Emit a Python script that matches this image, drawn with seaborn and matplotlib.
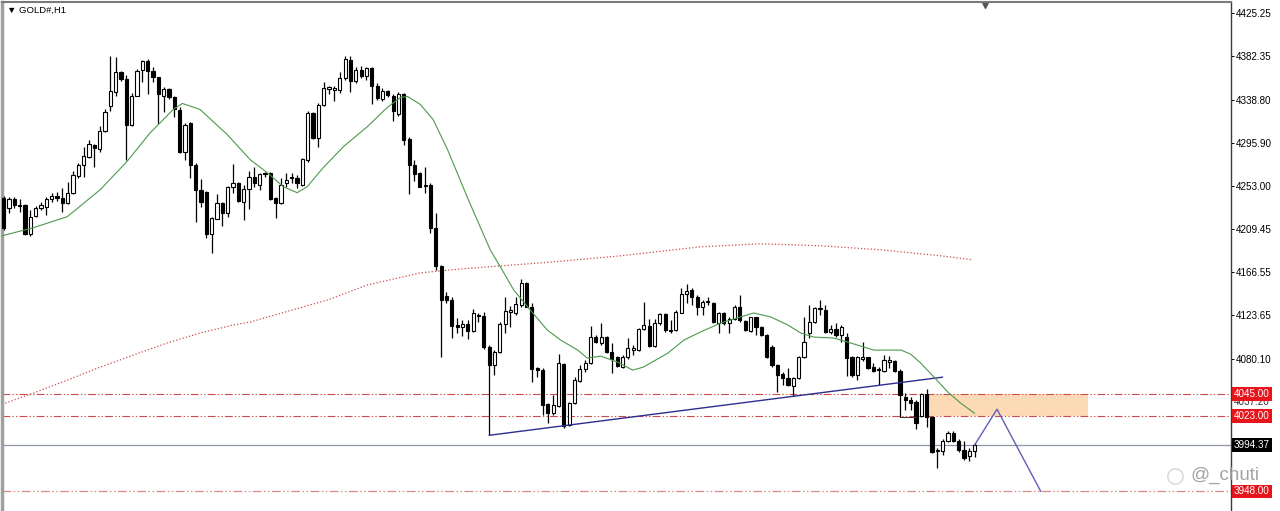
import numpy as np
import pandas as pd
import matplotlib
matplotlib.use('Agg')
import matplotlib.pyplot as plt
import matplotlib.patches as patches
import matplotlib.transforms as mtransforms
from matplotlib.lines import Line2D
import seaborn as sns

# H1 candles, bar -1 is the one half hidden at the left edge
opens = [4241, 4231, 4240, 4234, 4234, 4205, 4223, 4231, 4232, 4240,
         4243, 4241, 4236, 4246, 4263, 4274, 4282, 4294, 4290, 4308,
         4332, 4346, 4366, 4359, 4314, 4342, 4368, 4377, 4367, 4361,
         4342, 4349, 4341, 4328, 4287, 4316, 4274, 4249, 4247, 4205,
         4220, 4236, 4226, 4252, 4256, 4237, 4250, 4262, 4254, 4266,
         4266, 4241, 4236, 4256, 4261, 4261, 4254, 4279, 4325, 4301,
         4333, 4349, 4348, 4348, 4360, 4378, 4357, 4368, 4362, 4370,
         4352, 4339, 4347, 4342, 4324, 4344, 4300, 4274, 4266, 4254,
         4254, 4211, 4173, 4143, 4139, 4114, 4112, 4115, 4108, 4124,
         4123, 4092, 4074, 4087, 4115, 4127, 4126, 4134, 4156, 4132,
         4071, 4069, 4035, 4026, 4033, 4075, 4014, 4036, 4058, 4070,
         4076, 4102, 4096, 4102, 4087, 4082, 4072, 4082, 4089, 4089,
         4110, 4113, 4093, 4116, 4125, 4109, 4109, 4126, 4145, 4149,
         4142, 4132, 4137, 4136, 4116, 4126, 4116, 4120, 4132, 4118,
         4108, 4122, 4112, 4104, 4092, 4074, 4065, 4061, 4053, 4061,
         4082, 4106, 4117, 4130, 4129, 4107, 4110, 4104, 4102, 4082,
         4064, 4080, 4082, 4072, 4070, 4068, 4077, 4078, 4068, 4042,
         4039, 4037, 4023, 4045, 4022, 3988, 3988, 3998, 4006, 3998,
         3989, 3983, 3988]
highs = [4243, 4242, 4242, 4240, 4235, 4229, 4233, 4237, 4242, 4246,
         4247, 4251, 4257, 4268, 4276, 4292, 4299, 4295, 4313, 4329,
         4382, 4381, 4367, 4363, 4345, 4369, 4378, 4379, 4371, 4361,
         4351, 4350, 4342, 4331, 4316, 4317, 4276, 4260, 4248, 4222,
         4245, 4237, 4253, 4275, 4257, 4254, 4268, 4272, 4266, 4267,
         4267, 4242, 4261, 4266, 4266, 4264, 4281, 4327, 4326, 4335,
         4356, 4352, 4352, 4366, 4382, 4382, 4371, 4372, 4371, 4371,
         4355, 4350, 4348, 4344, 4346, 4345, 4302, 4279, 4267, 4272,
         4256, 4226, 4174, 4147, 4142, 4121, 4119, 4119, 4130, 4126,
         4127, 4094, 4089, 4117, 4142, 4133, 4142, 4160, 4157, 4136,
         4072, 4071, 4036, 4044, 4085, 4076, 4037, 4062, 4074, 4079,
         4113, 4104, 4116, 4103, 4096, 4083, 4084, 4101, 4094, 4111,
         4137, 4120, 4120, 4126, 4126, 4119, 4129, 4151, 4155, 4151,
         4144, 4139, 4142, 4137, 4127, 4127, 4122, 4134, 4144, 4119,
         4122, 4122, 4113, 4105, 4094, 4075, 4067, 4071, 4062, 4083,
         4122, 4134, 4132, 4139, 4134, 4114, 4116, 4114, 4106, 4083,
         4083, 4097, 4082, 4076, 4072, 4084, 4083, 4079, 4070, 4046,
         4042, 4039, 4046, 4050, 4022, 3991, 4000, 4008, 4008, 4000,
         3998, 3991, 3996]
lows = [4209, 4226, 4231, 4227, 4204, 4203, 4222, 4229, 4224, 4237,
        4238, 4227, 4235, 4245, 4261, 4262, 4281, 4272, 4287, 4307,
        4327, 4342, 4357, 4279, 4313, 4342, 4356, 4344, 4356, 4315,
        4326, 4339, 4321, 4286, 4279, 4261, 4217, 4232, 4201, 4186,
        4220, 4213, 4222, 4246, 4237, 4219, 4230, 4252, 4249, 4262,
        4239, 4221, 4235, 4252, 4256, 4251, 4253, 4277, 4300, 4292,
        4332, 4344, 4337, 4345, 4358, 4346, 4355, 4360, 4358, 4334,
        4338, 4337, 4341, 4318, 4322, 4294, 4245, 4258, 4252, 4246,
        4206, 4169, 4082, 4136, 4101, 4106, 4103, 4100, 4107, 4117,
        4090, 4004, 4064, 4086, 4106, 4112, 4124, 4132, 4132, 4057,
        4062, 4024, 4016, 4024, 4032, 4011, 4013, 4035, 4057, 4067,
        4075, 4096, 4094, 4086, 4066, 4072, 4071, 4080, 4084, 4088,
        4109, 4092, 4092, 4114, 4107, 4106, 4108, 4126, 4136, 4134,
        4124, 4124, 4134, 4116, 4106, 4114, 4106, 4119, 4117, 4108,
        4107, 4104, 4103, 4081, 4072, 4047, 4054, 4053, 4043, 4060,
        4081, 4101, 4116, 4124, 4106, 4105, 4102, 4097, 4063, 4062,
        4059, 4078, 4070, 4067, 4054, 4067, 4071, 4067, 4022, 4029,
        4029, 4010, 4022, 4012, 3986, 3971, 3984, 3997, 3997, 3987,
        3979, 3978, 3982]
closes = [4211, 4240, 4234, 4233, 4205, 4222, 4231, 4234, 4240, 4243,
          4241, 4236, 4246, 4264, 4274, 4283, 4295, 4291, 4308, 4326,
          4347, 4366, 4359, 4314, 4342, 4367, 4377, 4367, 4361, 4344,
          4349, 4341, 4329, 4287, 4314, 4274, 4249, 4237, 4205, 4221,
          4236, 4226, 4252, 4256, 4238, 4250, 4262, 4256, 4265, 4265,
          4240, 4236, 4254, 4259, 4262, 4256, 4280, 4325, 4301, 4333,
          4350, 4351, 4350, 4360, 4379, 4357, 4368, 4362, 4370, 4352,
          4340, 4347, 4343, 4327, 4344, 4299, 4274, 4265, 4252, 4253,
          4211, 4173, 4139, 4139, 4113, 4112, 4115, 4108, 4126, 4123,
          4092, 4074, 4087, 4115, 4128, 4129, 4135, 4156, 4132, 4070,
          4069, 4034, 4026, 4034, 4076, 4013, 4036, 4059, 4070, 4076,
          4102, 4097, 4102, 4087, 4080, 4073, 4082, 4091, 4091, 4110,
          4114, 4093, 4116, 4125, 4109, 4108, 4127, 4145, 4148, 4142,
          4132, 4137, 4138, 4117, 4126, 4116, 4120, 4132, 4119, 4109,
          4122, 4112, 4104, 4082, 4074, 4064, 4061, 4054, 4061, 4082,
          4097, 4117, 4131, 4131, 4107, 4110, 4104, 4112, 4081, 4064,
          4082, 4082, 4071, 4068, 4069, 4079, 4079, 4068, 4044, 4039,
          4036, 4016, 4045, 4022, 3987, 3989, 3998, 4006, 3998, 3989,
          3981, 3988, 3994]
bar_idx = np.arange(-1, len(opens) - 1)

# green fast MA, read along its path
ma_fast_idx = [-1.3, 4.5, 10.9, 17.1, 22.1, 26.5, 30.8, 32.5, 35.8, 40.9,
               45.2, 48.4, 51.4, 54.0, 55.9, 58.9, 62.7, 67.2, 70.9, 73.4,
               74.7, 77.1, 79.5, 82.2, 86.1, 90.2, 92.1, 94.6, 97.7, 100.9,
               103.4, 106.6, 108.4, 110.9, 114.1, 116.9, 118.9, 123.5, 126.5, 129.6,
               133.4, 137.1, 139.6, 142.8, 146.0, 148.4, 150.8, 154.6, 157.2, 162.1,
               167.2, 169.0, 170.9, 173.4, 176.0, 178.4, 181.0]
ma_fast_val = [4203, 4211, 4222, 4249, 4277, 4306, 4329, 4335, 4329, 4304,
               4279, 4266, 4252, 4246, 4252, 4271, 4292, 4312, 4331, 4341,
               4342, 4334, 4319, 4289, 4239, 4189, 4172, 4149, 4129, 4109,
               4099, 4089, 4081, 4083, 4077, 4069, 4072, 4086, 4099, 4107,
               4116, 4122, 4126, 4122, 4114, 4106, 4102, 4101, 4097, 4089,
               4089, 4085, 4076, 4062, 4047, 4036, 4026]

# red slow MA (dotted)
ma_slow_idx = [-1.3, 4.5, 10.9, 17.1, 23.3, 29.6, 35.8, 42.0, 45.2, 59.7,
               67.2, 77.1, 82.7, 89.7, 102.1, 114.6, 129.6, 140.9, 152.2, 163.4,
               174.7, 180.7]
ma_slow_val = [4035, 4046, 4059, 4072, 4084, 4096, 4106, 4114, 4117, 4139,
               4154, 4166, 4169, 4172, 4177, 4183, 4192, 4195, 4193, 4189,
               4183, 4179]

price_ticks = [4425.25, 4382.35, 4338.80, 4295.90, 4253.00, 4209.45, 4166.55, 4123.65, 4080.10]
level_high = 4045.00
level_low = 4023.00
level_target = 3948.00
bid_price = 3994.37
hidden_label = 4037.20

trend_idx = [90, 175]
trend_val = [4004, 4062]
path_idx = [181, 185.2, 193.4]
path_val = [3994.37, 4030, 3948]
zone_idx = [172.5, 202.2]
mark_idx = [167, 170]
mark_val = [4022, 4022]

sns.set_theme(style='white')
plt.rcParams['font.family'] = ['Liberation Sans', 'DejaVu Sans']

fig = plt.figure(figsize=(12.8, 5.11), dpi=100)
ax = fig.add_axes([2 / 1280, 0, 1229 / 1280, 509 / 511])

df = pd.DataFrame({'idx': bar_idx, 'open': opens, 'high': highs, 'low': lows, 'close': closes})
df['up'] = df['close'] >= df['open']
df['bottom'] = df[['open', 'close']].min(axis=1)
df['height'] = (df['close'] - df['open']).abs().clip(lower=0.8)

# zone + levels
ax.add_patch(patches.Rectangle((zone_idx[0], level_low), zone_idx[1] - zone_idx[0],
                               level_high - level_low, fc='#fcdab6', ec='none', zorder=1))
dashdotdot = (0, (7, 2, 1.2, 2, 1.2, 2))
for lv in [level_high, level_low]:
    ax.axhline(lv, color='#cc4a4a', lw=0.8, ls=dashdotdot, zorder=2)
ax.axhline(level_target, color='#d88a8a', lw=0.9, ls=dashdotdot, zorder=2)
ax.axhline(bid_price, color='#8e96a8', lw=0.9, zorder=2)

# moving averages
sns.lineplot(x=ma_slow_idx, y=ma_slow_val, color='#d24a4a', lw=0.9, ls=':', ax=ax, zorder=2)
sns.lineplot(x=ma_fast_idx, y=ma_fast_val, color='#4c994c', lw=0.8, ax=ax, zorder=6)

# candles
ax.vlines(df['idx'], df['low'], df['high'], color='black', lw=0.9, zorder=3)
ax.bar(df['idx'], df['height'], bottom=df['bottom'], width=0.6,
       color=np.where(df['up'], 'white', 'black'), edgecolor='black', linewidth=0.8, zorder=4)

# drawings
ax.plot(trend_idx, trend_val, color='#2e2e8e', lw=1.0, zorder=5)
ax.plot(mark_idx, mark_val, color='#333333', lw=0.7, zorder=5)
ax.plot(path_idx, path_val, color='#5e5eb8', lw=1.0, zorder=5)

ax.set_xlim(-7 / 5.335, 1222 / 5.335)
ax.set_ylim(3928.5, 4436.2)
ax.set_xticks([])
ax.yaxis.tick_right()
ax.set_yticks(price_ticks)
ax.set_yticklabels([f'{v:.2f}' for v in price_ticks])
ax.tick_params(axis='y', right=True, left=False, length=2.2, width=0.7, color='black',
               labelsize=7.1, pad=1.5, labelcolor='black')
ax.set_xlabel('')
ax.set_ylabel('')

ax.spines['bottom'].set_visible(False)
ax.spines['top'].set_color('#7a7a7a')
ax.spines['top'].set_linewidth(1.5)
ax.spines['left'].set_color('#a0a0a0')
ax.spines['left'].set_linewidth(2.5)
ax.spines['right'].set_color('#3a3a3a')
ax.spines['right'].set_linewidth(1.0)

# price labels on the scale
blend = mtransforms.blended_transform_factory(ax.transAxes, ax.transData)
x_lab = 1 + 3 / 1229
ax.text(x_lab, hidden_label, f'{hidden_label:.2f}', transform=blend, ha='left', va='center',
        fontsize=7.1, color='#333333', zorder=9)
for v, fc in [(level_high, '#e8141c'), (level_low, '#e8141c'),
              (level_target, '#e8141c'), (bid_price, 'black')]:
    ax.text(x_lab, v, f'{v:.2f}', transform=blend, ha='left', va='center',
            fontsize=7.1, color='white', zorder=10,
            bbox=dict(boxstyle='square,pad=0.18', fc=fc, ec='none'))

ax.text(0.004, 0.984, '\u25bc GOLD#,H1', transform=ax.transAxes, fontsize=6.8,
        va='center', ha='left', color='black')
top_mark = mtransforms.blended_transform_factory(ax.transData, ax.transAxes)
ax.plot([183.0], [0.994], marker='v', ms=5, color='#555555', transform=top_mark, clip_on=False)

# watermark
fig.add_artist(Line2D([1175 / 1280], [1 - 476 / 511], marker='o', ms=11, mfc='none',
                      mec='#dcdcdc', mew=1.2, transform=fig.transFigure))
fig.text(1190 / 1280, 1 - 475 / 511, '@_chuti', fontsize=13.5, color='#a3a3a3',
         va='center', ha='left', zorder=20)

fig.savefig('out.png', dpi=100)
